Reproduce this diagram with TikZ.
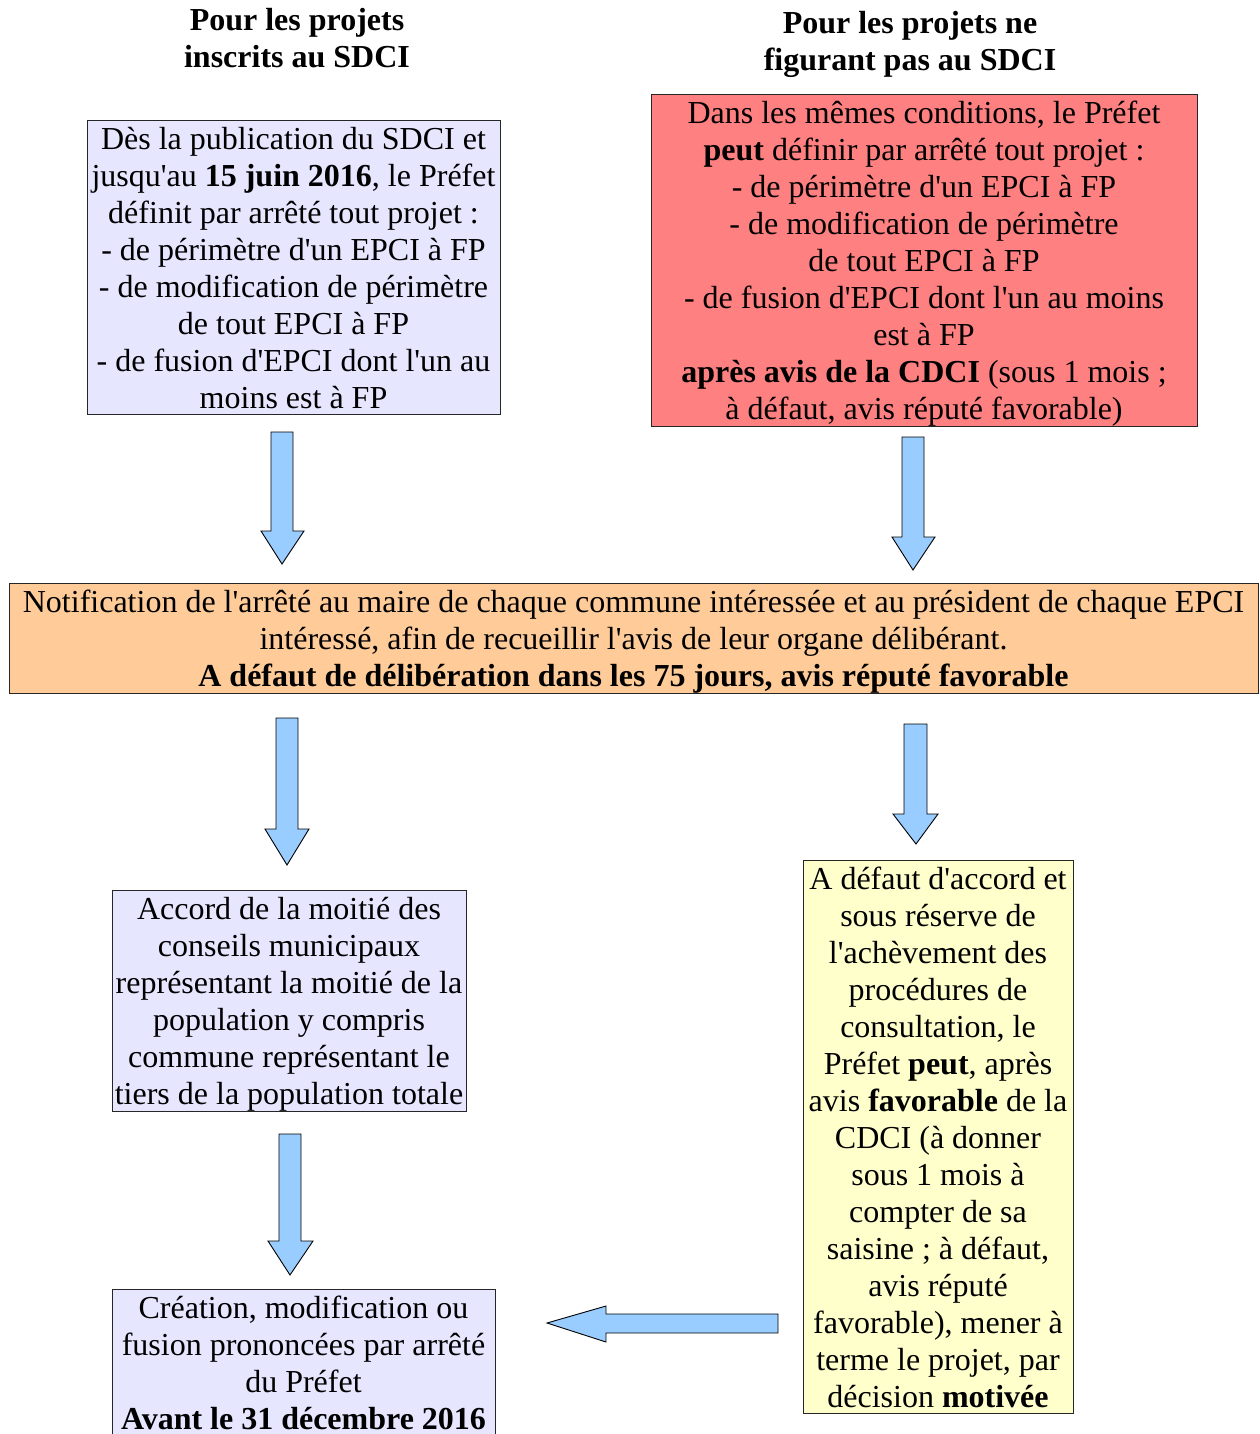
\documentclass[tikz,border=0pt]{standalone}
\usepackage{fontspec}
\setmainfont[Ligatures=TeXOff]{Liberation Serif}
\definecolor{lav}{HTML}{E6E6FF}
\definecolor{redbox}{HTML}{FF8080}
\definecolor{orangebox}{HTML}{FFCC99}
\definecolor{yellowbox}{HTML}{FFFFCC}
\definecolor{arrowblue}{HTML}{99CCFF}
\newcommand\st{\rule[-6pt]{0pt}{35pt}}
\begin{document}
\begin{tikzpicture}[x=1pt,y=-1pt,
  txt/.style={inner sep=0pt, align=center, font=\fontsize{32}{37}\selectfont},
  box/.style={txt, draw=black!85, line width=1pt},
  lavbox/.style={box, fill=lav},
  redb/.style={box, fill=redbox},
  orangeb/.style={box, fill=orangebox},
  yellowb/.style={box, fill=yellowbox},
  blockarrow/.style={draw=black, line width=0.9pt, fill=arrowblue, line join=miter}]
\useasboundingbox (0,0) rectangle (1259,1434);

% headers
\node[txt, anchor=north] (h1) at (297,1) {\textbf{\st Pour les projets}\\\textbf{inscrits au SDCI\st}};
\node[txt, anchor=north] (h2) at (910,4) {\textbf{\st Pour les projets ne}\\\textbf{figurant pas au SDCI\st}};

% box A
\node[lavbox, minimum width=413pt, minimum height=293pt] (A) at (293.5,267.5)
 {\st Dès la publication du SDCI et\\
  jusqu'au \textbf{15 juin 2016}, le Préfet\\
  définit par arrêté tout projet :\\
  - de périmètre d'un EPCI à FP\\
  - de modification de périmètre\\
  de tout EPCI à FP\\
  - de fusion d'EPCI dont l'un au\\
  moins est à FP\st};

% box B
\node[redb, minimum width=546pt, minimum height=331pt] (B) at (924,260.5)
 {\st Dans les mêmes conditions, le Préfet\\
  \textbf{peut} définir par arrêté tout projet :\\
  - de périmètre d'un EPCI à FP\\
  - de modification de périmètre\\
  de tout EPCI à FP\\
  - de fusion d'EPCI dont l'un au moins\\
  est à FP\\
  \textbf{après avis de la CDCI} (sous 1 mois ;\\
  à défaut, avis réputé favorable)\st};

% box C
\node[orangeb, minimum width=1249pt, minimum height=110pt] (C) at (633.5,638)
 {\st Notification de l'arrêté au maire de chaque commune intéressée et au président de chaque EPCI\\
  intéressé, afin de recueillir l'avis de leur organe délibérant.\\
  \textbf{A défaut de délibération dans les 75 jours, avis réputé favorable}\st};

% box D
\node[lavbox, minimum width=354pt, minimum height=220pt] (D) at (289,1001)
 {\st Accord de la moitié des\\
  conseils municipaux\\
  représentant la moitié de la\\
  population y compris\\
  commune représentant le\\
  tiers de la population totale\st};

% box E
\node[yellowb, minimum width=270pt, minimum height=552pt] (E) at (938,1137)
 {\st A défaut d'accord et\\
  sous réserve de\\
  l'achèvement des\\
  procédures de\\
  consultation, le\\
  Préfet \textbf{peut}, après\\
  avis \textbf{favorable} de la\\
  CDCI (à donner\\
  sous 1 mois à\\
  compter de sa\\
  saisine ; à défaut,\\
  avis réputé\\
  favorable), mener à\\
  terme le projet, par\\
  décision \textbf{motivée}\st};

% box F
\node[lavbox, minimum width=383pt, anchor=north] (F) at (303.5,1289)
 {\rule{0pt}{29pt}Création, modification ou\\
  fusion prononcées par arrêté\\
  du Préfet\\
  \textbf{Avant le 31 décembre 2016}\rule[-20pt]{0pt}{20pt}};

% block arrows
\draw[blockarrow] (271,432) -- (293,432) -- (293,531) -- (304,531) -- (282,564) -- (261,531) -- (271,531) -- cycle;
\draw[blockarrow] (902,437) -- (924,437) -- (924,537) -- (935,537) -- (913,570) -- (892,537) -- (902,537) -- cycle;
\draw[blockarrow] (276,718) -- (298,718) -- (298,829) -- (309,829) -- (287,865) -- (265,829) -- (276,829) -- cycle;
\draw[blockarrow] (904,724) -- (927,724) -- (927,814) -- (938,814) -- (916,844) -- (893,814) -- (904,814) -- cycle;
\draw[blockarrow] (279,1134) -- (301,1134) -- (301,1241) -- (313,1241) -- (290,1275) -- (268,1241) -- (279,1241) -- cycle;
\draw[blockarrow] (778,1314) -- (606,1314) -- (606,1306) -- (547,1323) -- (606,1342) -- (606,1333) -- (778,1333) -- cycle;
\end{tikzpicture}
\end{document}
